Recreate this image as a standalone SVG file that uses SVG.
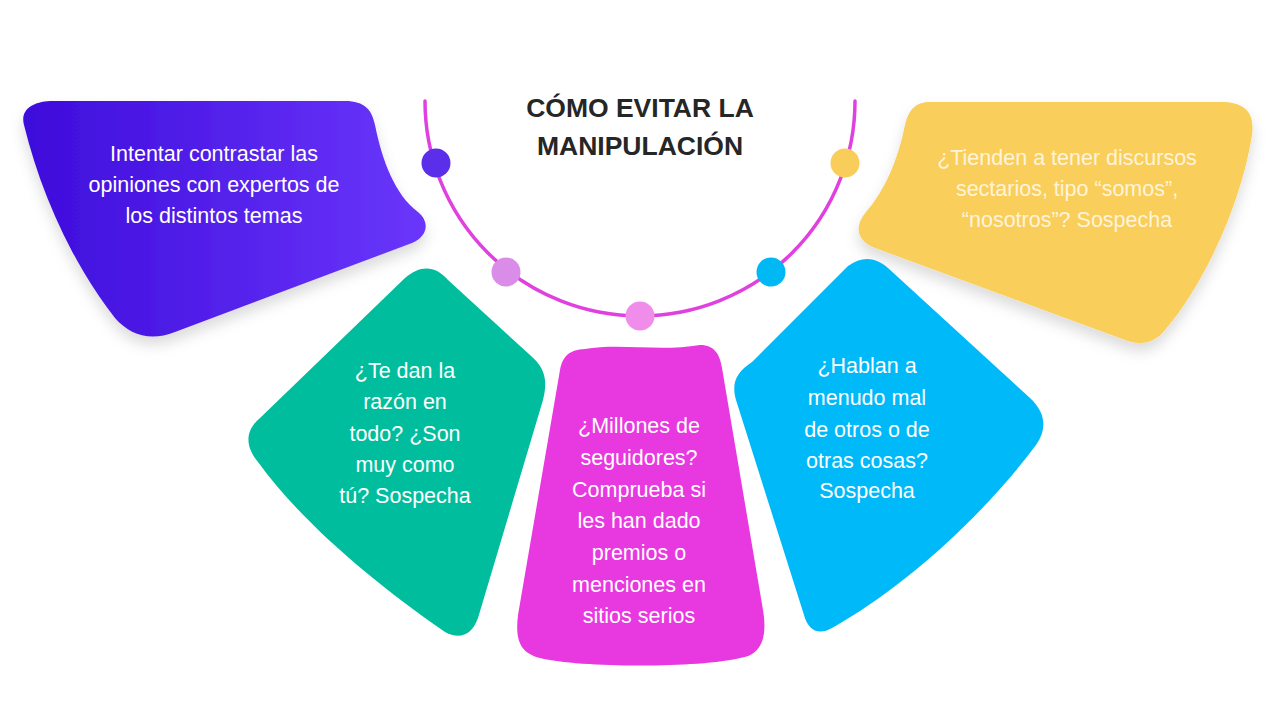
<svg xmlns="http://www.w3.org/2000/svg" width="1280" height="720" viewBox="0 0 1280 720">
<defs>
<linearGradient id="gPurple" x1="0" y1="0" x2="1" y2="0">
<stop offset="0" stop-color="#3D0CDB"/>
<stop offset="1" stop-color="#6A36FB"/>
</linearGradient>
<filter id="shadow" x="-20%" y="-20%" width="140%" height="150%">
<feDropShadow dx="0" dy="8" stdDeviation="7" flood-color="#000" flood-opacity="0.14"/>
</filter>
<style>
.t{font-family:"Liberation Sans",Arial,sans-serif;font-size:21.5px;fill:#fff;text-anchor:middle}
.ty{fill:#FFF4DA}
.title{font-family:"Liberation Sans",Arial,sans-serif;font-size:26.5px;font-weight:bold;fill:#262626;text-anchor:middle}
.arc{fill:none;stroke:#E040E0;stroke-width:3.5;stroke-linecap:round}
</style>
</defs>
<rect width="1280" height="720" fill="#fff"/>

<g id="connectors">
<path class="arc" d="M 425,101 A 215,215 0 0 0 855,101"/>
<circle cx="436" cy="163" r="14.5" fill="#5B2FEA"/>
<circle cx="506" cy="272" r="14.5" fill="#D98DE8"/>
<circle cx="640" cy="316" r="14.5" fill="#F08DEA"/>
<circle cx="771" cy="272" r="14.5" fill="#00B8F4"/>
<circle cx="845" cy="163" r="14.5" fill="#F9CD5A"/>
</g>

<g id="title">
<text class="title" x="640" y="117">CÓMO EVITAR LA</text>
<text class="title" x="640" y="155">MANIPULACIÓN</text>
</g>

<g id="node-purple">
<path filter="url(#shadow)" fill="url(#gPurple)" d="M 50,101 L 345,101 C 365,101 372,110 375,125 C 382,160 395,195 418,212 C 430,222 428,236 412,243 L 175,332 C 150,342 130,335 115,318 C 70,260 40,190 24,125 C 20,110 32,102 50,101 Z"/>
<text class="t" x="214" y="161">Intentar contrastar las</text>
<text class="t" x="214" y="192">opiniones con expertos de</text>
<text class="t" x="214" y="223">los distintos temas</text>
</g>

<g id="node-yellow">
<path filter="url(#shadow)" fill="#F9CE5A" d="M 930,102 L 1220,102 C 1245,102 1255,112 1252,135 C 1240,210 1200,290 1165,330 C 1155,343 1140,346 1125,340 L 875,248 C 855,240 855,225 866,212 C 885,190 898,160 905,125 C 909,108 917,102 930,102 Z"/>
<text class="t ty" x="1067" y="165">¿Tienden a tener discursos</text>
<text class="t ty" x="1067" y="196">sectarios, tipo “somos”,</text>
<text class="t ty" x="1067" y="227">“nosotros”? Sospecha</text>
</g>

<g id="node-green">
<path fill="#00BE9D" d="M 405,278 C 420,265 435,265 448,280 L 530,355 C 545,368 548,380 543,400 L 478,618 C 472,635 460,640 445,632 C 370,580 300,520 258,462 C 244,445 246,430 260,418 Z"/>
<text class="t" x="405" y="378">¿Te dan la</text>
<text class="t" x="405" y="409">razón en</text>
<text class="t" x="405" y="441">todo? ¿Son</text>
<text class="t" x="405" y="472">muy como</text>
<text class="t" x="405" y="503">tú? Sospecha</text>
</g>

<g id="node-pink">
<path fill="#E838E0" d="M 585,349 C 620,343 660,352 700,345 C 715,345 720,355 722,368 L 763,610 C 768,640 760,655 740,658 C 700,668 580,668 540,658 C 520,653 515,640 518,615 L 560,370 C 563,355 570,350 585,349 Z"/>
<text class="t" x="639" y="433">¿Millones de</text>
<text class="t" x="639" y="465">seguidores?</text>
<text class="t" x="639" y="497">Comprueba si</text>
<text class="t" x="639" y="528">les han dado</text>
<text class="t" x="639" y="560">premios o</text>
<text class="t" x="639" y="592">menciones en</text>
<text class="t" x="639" y="623">sitios serios</text>
</g>

<g id="node-blue">
<path fill="#00B9F9" d="M 848,266 C 862,256 875,257 888,268 L 1030,398 C 1045,412 1048,428 1036,445 C 980,520 900,590 832,628 C 818,636 808,630 804,615 L 736,400 C 731,382 737,372 752,362 Z"/>
<text class="t" x="867" y="373">¿Hablan a</text>
<text class="t" x="867" y="405">menudo mal</text>
<text class="t" x="867" y="437">de otros o de</text>
<text class="t" x="867" y="468">otras cosas?</text>
<text class="t" x="867" y="498">Sospecha</text>
</g>
</svg>
